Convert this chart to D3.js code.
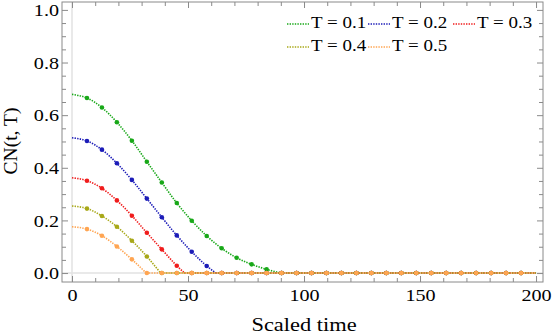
<!DOCTYPE html>
<html>
<head>
<meta charset="utf-8">
<script src="https://cdn.jsdelivr.net/npm/d3@7"></script>
<style>
  body { margin: 0; background: #fff; }
  text { font-family: "Liberation Serif", "Times New Roman", serif; fill: #000; }
</style>
</head>
<body>
<svg id="chart"></svg>
<script>
const width = 553;
const height = 335;

// sample times (the 30 mesh points between 0 and 200, plus both ends)
const sampleTimes = [0, 6.45, 12.9, 19.35, 25.81, 32.26, 38.71, 45.16, 51.61, 58.06,
  64.52, 70.97, 77.42, 83.87, 90.32, 96.77, 103.23, 109.68, 116.13, 122.58,
  129.03, 135.48, 141.94, 148.39, 154.84, 161.29, 167.74, 174.19, 180.65, 187.1,
  193.55, 200];

// values (only the part above zero, the rest is 0)
const valsT01 = [0.679, 0.665, 0.629, 0.573, 0.503, 0.423, 0.344, 0.266, 0.199, 0.141, 0.094, 0.058, 0.033, 0.014];
const valsT02 = [0.514, 0.502, 0.469, 0.417, 0.354, 0.283, 0.212, 0.143, 0.081, 0.027];
const valsT03 = [0.362, 0.351, 0.322, 0.276, 0.218, 0.153, 0.090, 0.028];
const valsT04 = [0.255, 0.245, 0.217, 0.176, 0.123, 0.063];
const valsT05 = [0.176, 0.167, 0.142, 0.101, 0.052];
// time where each curve reaches 0
const zeroAt = [90, 62, 48.5, 38.2, 32];

const seriesNames = ['T = 0.1', 'T = 0.2', 'T = 0.3', 'T = 0.4', 'T = 0.5'];
const seriesColors = ['#18a818', '#1c1cb8', '#f01c1c', '#a8a818', '#ffa552'];
const allVals = [valsT01, valsT02, valsT03, valsT04, valsT05];

const xTicks = [0, 50, 100, 150, 200];
const yTicks = [0.0, 0.2, 0.4, 0.6, 0.8, 1.0];

// frame edges
const frameL = 62, frameR = 543, frameT = 2, frameB = 282;

const x = d3.scaleLinear().domain([-4.31, 203.0]).range([frameL, frameR]);
const y = d3.scaleLinear().domain([-0.034, 1.030]).range([frameB, frameT]);

const svg = d3.select('#chart')
    .attr('width', width)
    .attr('height', height);

// light grey axis at t = 0 and y = 0
svg.append('line')
    .attr('x1', x(0)).attr('x2', x(0))
    .attr('y1', frameT).attr('y2', frameB)
    .attr('stroke', '#e2e2e2').attr('stroke-width', 1.5);
svg.append('line')
    .attr('x1', frameL).attr('x2', frameR)
    .attr('y1', y(0)).attr('y2', y(0))
    .attr('stroke', '#e2e2e2').attr('stroke-width', 1.5);

const frameColor = '#8a8a8a';
const stretch = 'scale(1.15,1)';

function styleAxis(g) {
    g.select('.domain').remove();
    g.selectAll('.tick line').attr('stroke', frameColor);
}

const xMinor = [10, 20, 30, 40, 60, 70, 80, 90, 110, 120, 130, 140, 160, 170, 180, 190];
const yMinor = [0.05, 0.1, 0.15, 0.25, 0.3, 0.35, 0.45, 0.5, 0.55, 0.65, 0.7, 0.75, 0.85, 0.9, 0.95];

// bottom
svg.append('g').attr('transform', `translate(0,${frameB})`)
    .call(d3.axisBottom(x).tickValues(xTicks).tickSize(-6).tickFormat(d3.format('d')))
    .call(styleAxis)
    .call(g => g.selectAll('.tick text')
        .attr('y', 19).attr('dy', 0)
        .attr('font-size', 17.5)
        .attr('font-family', '"Liberation Serif", serif')
        .attr('transform', stretch));
svg.append('g').attr('transform', `translate(0,${frameB})`)
    .call(d3.axisBottom(x).tickValues(xMinor).tickSize(-4).tickFormat(''))
    .call(styleAxis);
// top
svg.append('g').attr('transform', `translate(0,${frameT})`)
    .call(d3.axisTop(x).tickValues(xTicks).tickSize(-6).tickFormat(''))
    .call(styleAxis);
svg.append('g').attr('transform', `translate(0,${frameT})`)
    .call(d3.axisTop(x).tickValues(xMinor).tickSize(-4).tickFormat(''))
    .call(styleAxis);
// left
svg.append('g').attr('transform', `translate(${frameL},0)`)
    .call(d3.axisLeft(y).tickValues(yTicks).tickSize(-6).tickFormat(d3.format('.1f')))
    .call(styleAxis)
    .call(g => g.selectAll('.tick text')
        .attr('x', -2.6).attr('dy', '0.33em')
        .attr('font-size', 17.5)
        .attr('font-family', '"Liberation Serif", serif')
        .attr('transform', stretch));
svg.append('g').attr('transform', `translate(${frameL},0)`)
    .call(d3.axisLeft(y).tickValues(yMinor).tickSize(-4).tickFormat(''))
    .call(styleAxis);
// right
svg.append('g').attr('transform', `translate(${frameR},0)`)
    .call(d3.axisRight(y).tickValues(yTicks).tickSize(-6).tickFormat(''))
    .call(styleAxis);
svg.append('g').attr('transform', `translate(${frameR},0)`)
    .call(d3.axisRight(y).tickValues(yMinor).tickSize(-4).tickFormat(''))
    .call(styleAxis);

// frame box
svg.append('rect')
    .attr('x', frameL).attr('y', frameT)
    .attr('width', frameR - frameL).attr('height', frameB - frameT)
    .attr('fill', 'none').attr('stroke', frameColor).attr('stroke-width', 1);

// curves: smooth fall down to zero, then flat at 0
allVals.forEach((vals, i) => {
    const color = seriesColors[i];
    const falling = vals.map((v, k) => [sampleTimes[k], v]);
    falling.push([zeroAt[i], 0]);
    const flat = [[zeroAt[i], 0], [200, 0]];

    [falling, flat].forEach(pts => {
        svg.append('path')
            .datum(pts)
            .attr('d', d3.line()
                .x(d => x(d[0]))
                .y(d => y(d[1]))
                .curve(pts.length > 2 ? d3.curveMonotoneX : d3.curveLinear))
            .attr('fill', 'none')
            .attr('stroke', color)
            .attr('stroke-width', 1.6)
            .attr('stroke-dasharray', '1.4,1.2');
    });

    // mesh markers at the interior sample times
    const marks = sampleTimes.slice(1, 31).map((t, k) => [t, k + 1 < vals.length ? vals[k + 1] : 0]);
    svg.append('g').selectAll('circle')
        .data(marks)
        .enter()
        .append('circle')
        .attr('cx', d => x(d[0]))
        .attr('cy', d => y(d[1]))
        .attr('r', 2.3)
        .attr('fill', color);
});

// legend
const legendPos = [[287, 24], [368, 24], [453, 24], [287, 47], [368, 47]];
seriesNames.forEach((name, i) => {
    const [lx, ly] = legendPos[i];
    svg.append('line')
        .attr('x1', lx).attr('x2', lx + 22)
        .attr('y1', ly).attr('y2', ly)
        .attr('stroke', seriesColors[i])
        .attr('stroke-width', 1.6)
        .attr('stroke-dasharray', '1.4,1.2');
    svg.append('text')
        .attr('transform', `translate(${lx + 24},${ly + 3.5}) ${stretch}`)
        .attr('font-size', 16.5)
        .text(name);
});

// axis labels
svg.append('text')
    .attr('transform', `translate(${(x(0) + x(200)) / 2},331) ${stretch}`)
    .attr('text-anchor', 'middle')
    .attr('font-size', 19.5)
    .text('Scaled time');

svg.append('text')
    .attr('transform', 'translate(17,141) rotate(-90)')
    .attr('text-anchor', 'middle')
    .attr('font-size', 19.5)
    .text('CN(t, T)');
</script>
</body>
</html>
